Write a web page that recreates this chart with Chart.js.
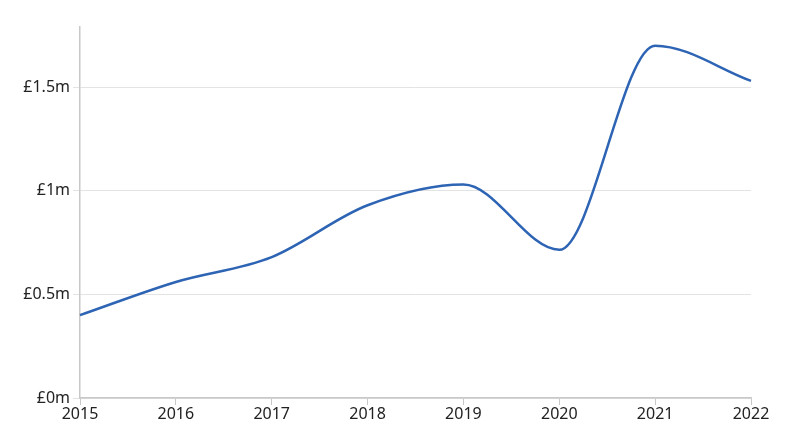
<!DOCTYPE html>
<html>
<head>
<meta charset="utf-8">
<script src="https://cdn.jsdelivr.net/npm/chart.js@4"></script>
<style>
  html, body { margin: 0; padding: 0; background: #fff; }
  #wrap { width: 800px; height: 441px; }
</style>
</head>
<body>
<div id="wrap"><canvas id="chart"></canvas></div>
<script>
// values in £ millions
const years = ['2015', '2016', '2017', '2018', '2019', '2020', '2021', '2022'];
const amounts = [0.40, 0.56, 0.68, 0.93, 1.03, 0.715, 1.70, 1.53];
const yTicks = [0, 0.5, 1, 1.5];

const ctx = document.getElementById('chart').getContext('2d');
new Chart(ctx, {
  type: 'line',
  data: {
    labels: years,
    datasets: [{
      data: amounts,
      borderColor: '#2e64b4',
      borderWidth: 2.5,
      pointRadius: 0,
      fill: false,
      cubicInterpolationMode: 'monotone'
    }]
  },
  options: {
    responsive: true,
    maintainAspectRatio: false,
    animation: false,
    layout: { padding: { left: 0, right: 49, top: 27, bottom: 0 } },
    plugins: { legend: { display: false }, tooltip: { enabled: false } },
    scales: {
      x: {
        offset: false,
        grid: { drawOnChartArea: false, drawTicks: true, tickLength: 7, color: '#c8c8c8' },
        border: { color: '#c8c8c8', width: 1.5 },
        ticks: { color: '#222', font: { family: 'Noto Sans', size: 16 }, padding: 0, maxRotation: 0 },
        afterFit: s => { s.height = 43; }
      },
      y: {
        min: 0,
        max: 1.79,
        afterBuildTicks: s => { s.ticks = yTicks.map(v => ({ value: v })); },
        grid: { color: '#e3e3e3', drawTicks: true, tickLength: 7 },
        border: { color: '#c8c8c8', width: 1.5 },
        ticks: {
          color: '#222',
          font: { family: 'Noto Sans', size: 16 },
          padding: 3,
          callback: v => '£' + v + 'm'
        },
        afterFit: s => { s.width = 80; }
      }
    }
  }
});
</script>
</body>
</html>
